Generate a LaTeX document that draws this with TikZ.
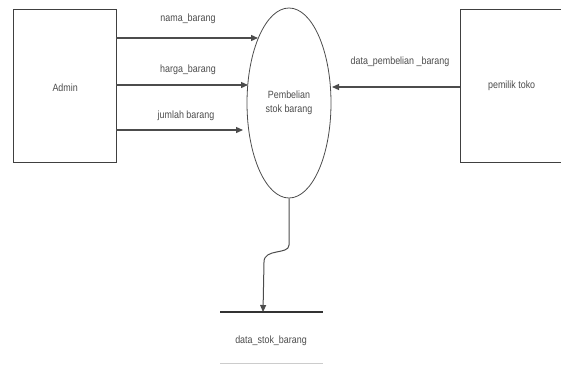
\documentclass[tikz,border=0pt]{standalone}
\usepackage{fontspec}
\setmainfont[FakeStretch=0.85]{Liberation Sans}
\usetikzlibrary{arrows.meta,shapes.geometric}
\begin{document}
\begin{tikzpicture}[x=1pt,y=-1pt,
  ent/.style={draw=black!75,line width=1.3pt,fill=white},
  flow/.style={draw=black!70,line width=1.3pt,-{Triangle[length=7pt,width=6pt]}},
  lbl/.style={text=black!70,font=\fontsize{10.5}{12}\selectfont,inner sep=0pt},
  proc/.style={draw=black!70,line width=0.8pt,ellipse,minimum width=84pt,minimum height=190pt,inner sep=0pt,align=center}
]
\useasboundingbox (0,0) rectangle (561,367);
% entities
\node[ent,minimum width=103pt,minimum height=153pt,anchor=north west] (admin) at (13,9) {};
\node[lbl] at ([yshift=-2pt]admin.center) {Admin};
\node[ent,minimum width=102pt,minimum height=153pt,anchor=north west] (pemilik) at (460,9) {};
\node[lbl] at (pemilik.center) {pemilik toko};
% process
\node[proc,font=\fontsize{10.5}{14}\selectfont,text=black!70] (proses) at (289,103) {Pembelian\\stok barang};
% data store
\coordinate (dsl) at (220,312);
\coordinate (dsr) at (323,312);
\draw[draw=black!80,line width=1.3pt] (dsl) -- (dsr);
\draw[draw=black!20,line width=0.6pt] (220,363) -- (323,363);
\node[lbl] (store) at (271,341) {data\_stok\_barang};
% flows from admin
\coordinate (a1) at (116,38);
\coordinate (e1) at (258,38);
\coordinate (a2) at (116,85);
\coordinate (e2) at (248,85);
\coordinate (a3) at (116,130);
\coordinate (e3) at (243,130);
\draw[flow] (a1) -- (e1);
\draw[flow] (a2) -- (e2);
\draw[flow] (a3) -- (e3);
\node[lbl] at (188,19) {nama\_barang};
\node[lbl] at (188,70) {harga\_barang};
\node[lbl] at (186,116) {jumlah barang};
% flow from pemilik
\coordinate (p1) at (460,87);
\coordinate (pe) at (332,87);
\draw[flow] (p1) -- (pe);
\node[lbl] at (400,62) {data\_pembelian \_barang};
% flow to data store
\coordinate (st) at (263,312);
\draw[flow,line width=1pt] (proses.south) -- (289,245) .. controls (289,255) and (264,248) .. (264,262) -- (st);
\end{tikzpicture}
\end{document}
